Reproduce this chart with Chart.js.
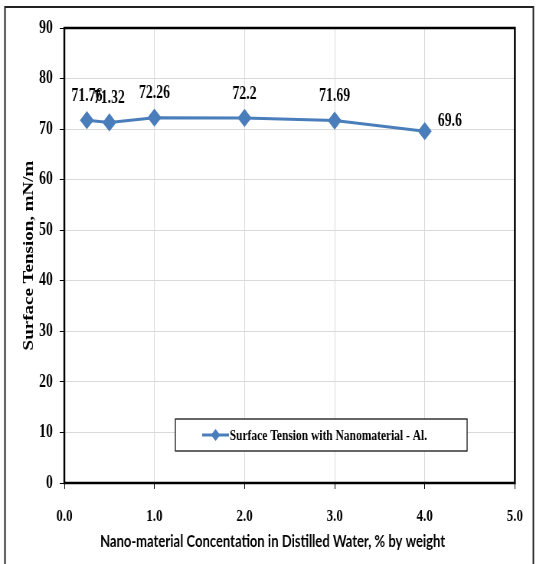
<!DOCTYPE html>
<html>
<head>
<meta charset="utf-8">
<script src="https://cdn.jsdelivr.net/npm/chart.js@4.4.0/dist/chart.umd.min.js"></script>
<style>
  html, body { margin: 0; padding: 0; background: #fff; overflow: hidden; }
</style>
</head>
<body>
<!-- drawn 700px wide and squeezed to 536px, like the narrow look of the original -->
<canvas id="chart" width="700" height="564" style="width:536px;height:564px"></canvas>
<script>
const concentration = [0.25, 0.5, 1, 2, 3, 4];
const tension = [71.76, 71.32, 72.26, 72.2, 71.69, 69.6];
const seriesName = "Surface Tension with Nanomaterial - Al.";
const xTitle = "Nano-material Concentation in Distilled Water, % by weight";
const yTitle = "Surface Tension, mN/m";
const xRange = [0, 5];
const yRange = [0, 90];

const BLUE = "#4a7ebb";
const SERIF = "'Liberation Serif', 'Times New Roman', serif";

// value labels over the points, last one sits to the right
const pointLabels = {
  id: "pointLabels",
  afterDatasetsDraw(chart) {
    const ctx = chart.ctx;
    const pts = chart.getDatasetMeta(0).data;
    ctx.save();
    ctx.font = "bold 18px " + SERIF;
    ctx.fillStyle = "#000";
    ctx.textBaseline = "middle";
    pts.forEach((p, i) => {
      const txt = String(tension[i]);
      if (i === pts.length - 1) {
        ctx.textAlign = "left";
        ctx.fillText(txt, p.x + 17, p.y - 10);
      } else {
        ctx.textAlign = "center";
        ctx.fillText(txt, p.x, p.y - 24);
      }
    });
    ctx.restore();
  }
};

// plot box, outer frame, x title (sits a bit left of the plot centre) and legend box
const frame = {
  id: "frame",
  beforeDatasetsDraw(chart) {
    const {ctx, chartArea: a} = chart;
    ctx.save();
    ctx.strokeStyle = "#000";
    ctx.lineWidth = 2.5;
    ctx.strokeRect(a.left, a.top, a.right - a.left, a.bottom - a.top);
    ctx.restore();
  },
  afterDraw(chart) {
    const {ctx, chartArea: a} = chart;
    ctx.save();
    ctx.strokeStyle = "#222";
    ctx.lineWidth = 2;
    ctx.strokeRect(6.5, 7, chart.width - 10, chart.height + 20);

    ctx.fillStyle = "#000";
    ctx.font = "bold 17px Lato, 'Open Sans', sans-serif";
    ctx.textAlign = "center";
    ctx.textBaseline = "middle";
    ctx.fillText(xTitle, chart.width / 2 + 6, a.bottom + 59);

    // legend
    const bx = a.left + 145, by = a.top + 391, bw = 381, bh = 32;
    ctx.fillStyle = "#fff";
    ctx.fillRect(bx, by, bw, bh);
    ctx.lineWidth = 1.2;
    ctx.strokeStyle = "#000";
    ctx.strokeRect(bx, by, bw, bh);
    const cy = by + bh / 2;
    ctx.strokeStyle = BLUE;
    ctx.lineWidth = 3;
    ctx.beginPath();
    ctx.moveTo(bx + 35, cy);
    ctx.lineTo(bx + 70, cy);
    ctx.stroke();
    ctx.fillStyle = BLUE;
    ctx.beginPath();
    ctx.moveTo(bx + 52.5, cy - 6);
    ctx.lineTo(bx + 58.5, cy);
    ctx.lineTo(bx + 52.5, cy + 6);
    ctx.lineTo(bx + 46.5, cy);
    ctx.closePath();
    ctx.fill();
    ctx.fillStyle = "#000";
    ctx.font = "bold 15px " + SERIF;
    ctx.textAlign = "left";
    ctx.fillText(chart.data.datasets[0].label, bx + 71, cy + 1);
    ctx.restore();
  }
};

new Chart(document.getElementById("chart"), {
  type: "line",
  data: {
    datasets: [{
      label: seriesName,
      data: concentration.map((x, i) => ({x: x, y: tension[i]})),
      borderColor: BLUE,
      backgroundColor: BLUE,
      borderWidth: 3,
      pointStyle: "rectRot",
      pointRadius: 7,
      pointHoverRadius: 7,
      tension: 0
    }]
  },
  options: {
    responsive: false,
    animation: false,
    devicePixelRatio: 1,
    layout: {padding: {left: 0, top: 28, right: 25, bottom: 0}},
    plugins: {
      legend: {display: false},
      tooltip: {enabled: false}
    },
    scales: {
      x: {
        type: "linear",
        min: xRange[0],
        max: xRange[1],
        afterFit: s => { s.height = 81; },
        ticks: {
          stepSize: 1,
          padding: 17,
          color: "#000",
          font: {family: SERIF, size: 17, weight: "bold"},
          callback: v => v.toFixed(1)
        },
        grid: {color: "#d9d9d9", tickColor: "#000", tickLength: 6, lineWidth: 1},
        border: {display: false}
      },
      y: {
        min: yRange[0],
        max: yRange[1],
        afterFit: s => { s.width = 84; },
        ticks: {
          stepSize: 10,
          padding: 9,
          color: "#000",
          font: {family: SERIF, size: 18, weight: "bold"}
        },
        grid: {color: "#d9d9d9", tickColor: "#000", tickLength: 6, lineWidth: 1},
        border: {display: false},
        title: {
          display: true,
          text: yTitle,
          color: "#000",
          font: {family: SERIF, size: 19, weight: "bold"},
          padding: {top: 27, bottom: 0}
        }
      }
    }
  },
  plugins: [frame, pointLabels]
});
</script>
</body>
</html>
